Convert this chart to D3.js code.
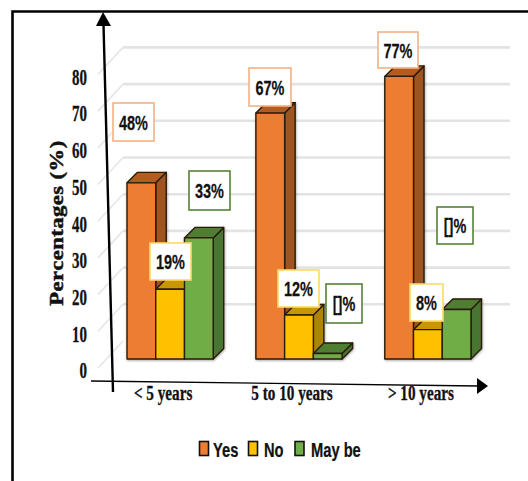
<!DOCTYPE html>
<html>
<head>
<meta charset="utf-8">
<script src="https://cdn.jsdelivr.net/npm/d3@7"></script>
<style>
  html, body { margin: 0; padding: 0; background: #fff; }
  svg { display: block; }
  .serif { font-family: "Liberation Serif", serif; font-weight: 700; fill: #111; stroke: #111; stroke-width: 0.3px; }
  .sans { font-family: "Liberation Sans", sans-serif; font-weight: 700; fill: #111; stroke: #111; stroke-width: 0.25px; }
</style>
</head>
<body>
<svg id="chart" width="528" height="481"></svg>
<script>
// Survey answers by length of experience
const categories = ["< 5 years", "5 to 10 years", "> 10 years"];
const seriesNames = ["Yes", "No", "May be"];
const yesValues = [48, 67, 77];
const noValues = [19, 12, 8];
const maybeValues = [33, 1.5, 13.5];
const yesLabels = ["48%", "67%", "77%"];
const noLabels = ["19%", "12%", "8%"];
const maybeLabels = ["33%", "[]%", "[]%"];
const yTicks = [0, 10, 20, 30, 40, 50, 60, 70, 80];

const seriesValues = [yesValues, noValues, maybeValues];
const seriesLabels = [yesLabels, noLabels, maybeLabels];

// Face colours per series: front, side, top, label border
const palette = [
  { front: "#ed7d31", side: "#9e5420", top: "#b25c22", border: "#f4b183" },
  { front: "#ffc000", side: "#ae8500", top: "#c79600", border: "#ffd966" },
  { front: "#70ad47", side: "#4a7430", top: "#4f7d32", border: "#548235" }
];

// Label box rectangles, as [left, top, width, height], per series and category
const labelBoxes = [
  [[113, 103, 41, 38], [249, 68, 42, 38], [378, 32, 40, 36]],
  [[150, 243, 41, 37], [278, 270, 41, 37], [410, 284, 33, 37]],
  [[189, 171, 41, 39], [326, 284, 36, 39], [437, 207, 36, 37]]
];

const baseY = 359;
const unit = 3.67;
const depth = 10.5;
const wall = { dx: 25, dy: 27, backShift: 18 };
const gridRight = 510;

const svg = d3.select("#chart");

const defs = svg.append("defs");
defs.append("filter").attr("id", "barShadow")
    .attr("x", "-20%").attr("y", "-20%").attr("width", "140%").attr("height", "140%")
  .append("feDropShadow")
    .attr("dx", 0.6).attr("dy", 1).attr("stdDeviation", 1)
    .attr("flood-color", "#000").attr("flood-opacity", 0.35);

const y = d3.scaleLinear().domain([0, 80]).range([baseY, baseY - 80 * unit]);
const x = d3.scaleBand().domain(categories).range([127, 471]).paddingInner(0.331).paddingOuter(0);
const inner = d3.scaleBand().domain(seriesNames).range([0, x.bandwidth()]);

// Outer frame, open on the right and bottom
svg.append("path")
    .attr("d", d3.line()([[12.5, 481], [12.5, 11.5], [528, 11.5]]))
    .attr("fill", "none").attr("stroke", "#000").attr("stroke-width", 2.6);

// Back wall gridlines and the slanted side-wall lines
const gridLayer = svg.append("g");
const backY = v => y(v) - wall.backShift;
gridLayer.selectAll("line.grid").data(yTicks.slice(1)).join("line")
    .attr("class", "grid")
    .attr("x1", 123).attr("x2", gridRight)
    .attr("y1", backY).attr("y2", backY)
    .attr("stroke", "#e3e3e3").attr("stroke-width", 2.6);
gridLayer.selectAll("line.wall").data(yTicks).join("line")
    .attr("class", "wall")
    .attr("x1", 123).attr("x2", 123 - wall.dx)
    .attr("y1", backY).attr("y2", v => backY(v) + wall.dy)
    .attr("stroke", "#e6e6e6").attr("stroke-width", 1.6);

// 3D columns, painted left to right so later faces overlap earlier ones
const barLayer = svg.append("g").attr("filter", "url(#barShadow)");
categories.forEach((cat, c) => {
  seriesNames.forEach((name, s) => {
    const value = seriesValues[s][c];
    const x0 = x(cat) + inner(name);
    const x1 = x0 + inner.bandwidth();
    const yTop = y(value);
    const g = barLayer.append("g")
        .attr("stroke", "#2a1a08").attr("stroke-width", 1.4).attr("stroke-linejoin", "round");
    g.append("path").attr("fill", palette[s].side)
        .attr("d", d3.line()([[x1, yTop], [x1 + depth, yTop - depth], [x1 + depth, baseY - depth], [x1, baseY]]) + "Z");
    g.append("path").attr("fill", palette[s].top)
        .attr("d", d3.line()([[x0, yTop], [x0 + depth, yTop - depth], [x1 + depth, yTop - depth], [x1, yTop]]) + "Z");
    g.append("rect").attr("fill", palette[s].front)
        .attr("x", x0).attr("y", yTop).attr("width", x1 - x0).attr("height", baseY - yTop);
  });
});

// Axis tick labels, horizontally condensed
const yAxis = d3.axisLeft(y).tickValues(yTicks).tickSize(0).tickPadding(0);
const yAxisG = svg.append("g").attr("transform", "translate(87,11)").call(yAxis);
yAxisG.select(".domain").remove();
yAxisG.selectAll("text").attr("class", "serif").attr("font-size", 23).attr("dy", "0.34em")
    .attr("transform", "scale(0.65,1)");

const xAxis = d3.axisBottom(x).tickSize(0).tickPadding(0);
const xAxisG = svg.append("g").attr("transform", "translate(-7,386)").call(xAxis);
xAxisG.select(".domain").remove();
xAxisG.selectAll("text").attr("class", "serif").attr("font-size", 20).attr("dy", "0.71em")
    .attr("transform", "scale(0.76,1)");

// Hand-drawn style axis arrows
svg.append("line").attr("x1", 113).attr("y1", 392).attr("x2", 103.5).attr("y2", 24)
    .attr("stroke", "#000").attr("stroke-width", 2.4);
svg.append("path").attr("d", d3.line()([[103, 12], [111, 26], [96, 26]]) + "Z").attr("fill", "#000");
svg.append("line").attr("x1", 91).attr("y1", 381).attr("x2", 478).attr("y2", 386)
    .attr("stroke", "#000").attr("stroke-width", 1.4);
svg.append("path").attr("d", d3.line()([[488, 386], [477, 378], [477, 394]]) + "Z").attr("fill", "#000");

// Value axis title, stretched along its reading direction
svg.append("text").attr("class", "serif")
    .attr("transform", "translate(62.5,223) rotate(-90) scale(1.16,1)")
    .attr("text-anchor", "middle").attr("font-size", 19.5).attr("letter-spacing", 0.4)
    .style("stroke-width", "0.5px")
    .text("Percentages (%)");

// Value callouts
const labelLayer = svg.append("g");
seriesLabels.forEach((labels, s) => {
  labels.forEach((label, c) => {
    const [bx, by, bw, bh] = labelBoxes[s][c];
    labelLayer.append("rect")
        .attr("x", bx).attr("y", by).attr("width", bw).attr("height", bh)
        .attr("fill", "#fff").attr("stroke", palette[s].border).attr("stroke-width", 1.6);
    labelLayer.append("text").attr("class", "sans")
        .attr("text-anchor", "middle").attr("font-size", 21)
        .attr("transform", `translate(${bx + bw / 2},${by + bh / 2 + 7.5}) scale(0.69,1)`)
        .text(label);
  });
});

// Legend
const legendEntries = [
  { swatch: 199.5, text: 213 },
  { swatch: 248.5, text: 264 },
  { swatch: 295, text: 311 }
];
const legend = svg.append("g");
seriesNames.forEach((name, s) => {
  legend.append("rect")
      .attr("x", legendEntries[s].swatch).attr("y", 441.5).attr("width", 9).attr("height", 14)
      .attr("fill", palette[s].front).attr("stroke", "#111").attr("stroke-width", 1.6);
  legend.append("text").attr("class", "sans")
      .attr("font-size", 21)
      .attr("transform", `translate(${legendEntries[s].text},457) scale(0.7,1)`)
      .text(name);
});
</script>
</body>
</html>
